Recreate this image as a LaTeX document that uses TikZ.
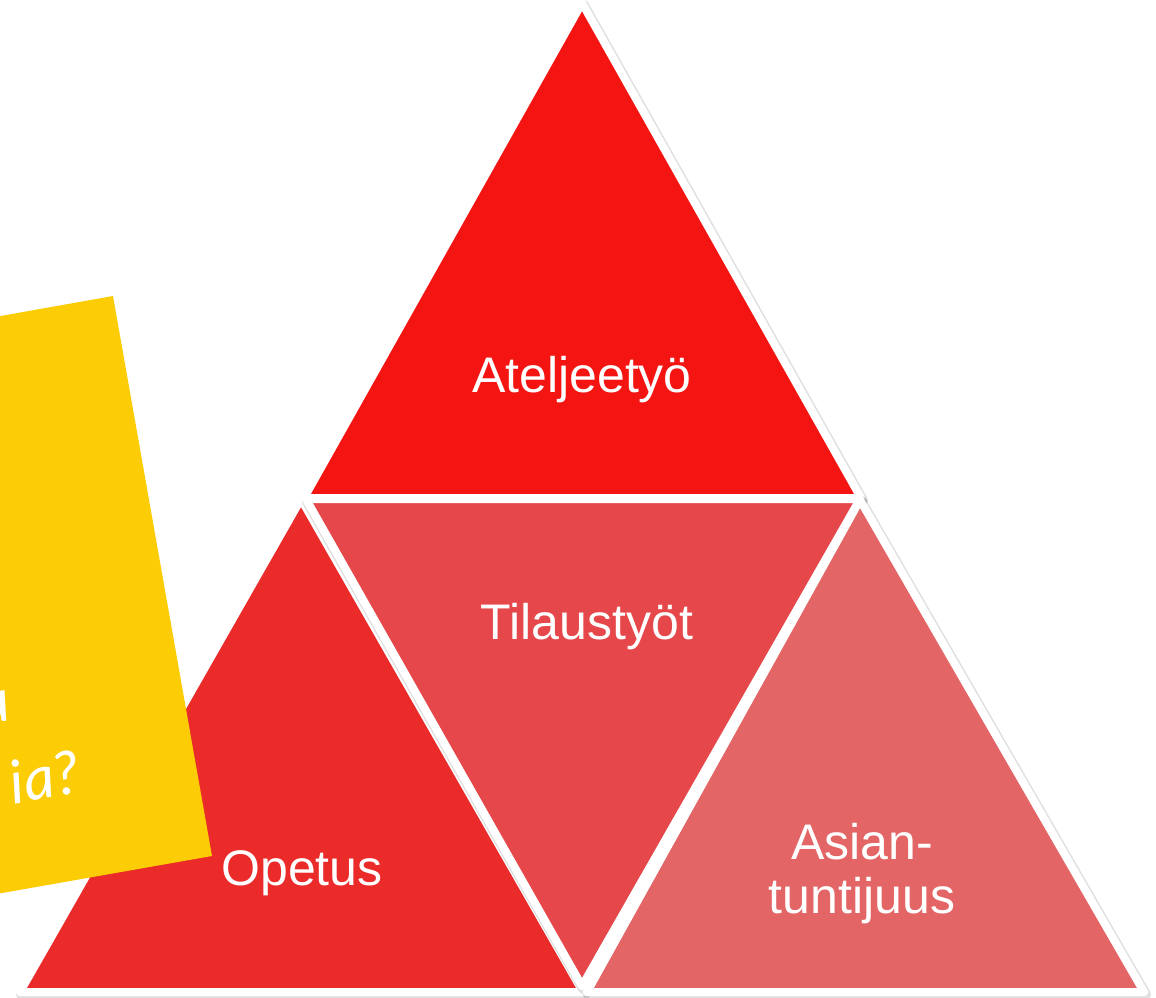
\documentclass[tikz,border=0pt]{standalone}
\usepackage{fontspec}
\setmainfont{Liberation Sans}
\newfontfamily\handfont{Lato}
\definecolor{topred}{HTML}{F41412}
\definecolor{midred}{HTML}{E6474A}
\definecolor{leftred}{HTML}{EB2A2A}
\definecolor{rightred}{HTML}{E36566}
\definecolor{notey}{HTML}{FCCC05}
\begin{document}
\begin{tikzpicture}[x=1pt,y=-1pt,
  tri/.style={draw=white, line width=8pt, line join=round},
  trishadow/.style={draw=black, draw opacity=0.12, line width=11pt, line join=round, shift={(1.5,2.5)}},
  lbl/.style={text=white, font=\fontsize{50}{54}\selectfont, align=center, inner sep=0pt},
  hand/.style={text=white, font=\handfont\itshape\fontsize{60}{66}\selectfont, inner sep=0pt, rotate=10}]
\useasboundingbox (0,0) rectangle (1156,998);
\clip (0,0) rectangle (1156,998);
% top triangle
\draw[trishadow] (582,3) -- (861,498) -- (304,498) -- cycle;
\filldraw[tri, fill=topred] (582,3) -- (861,498) -- (304,498) -- cycle;
% left triangle
\draw[trishadow] (301,499) -- (583,992) -- (20,992) -- cycle;
\filldraw[tri, fill=leftred] (301,499) -- (583,992) -- (20,992) -- cycle;
% middle inverted triangle
\draw[trishadow] (306,499) -- (860,499) -- (582,986) -- cycle;
\filldraw[tri, fill=midred] (306,499) -- (860,499) -- (582,986) -- cycle;
% right triangle
\draw[trishadow] (860,500) -- (1144,992) -- (587,992) -- cycle;
\filldraw[tri, fill=rightred] (860,500) -- (1144,992) -- (587,992) -- cycle;
% yellow note
\fill[notey] (-50,325) -- (113,296) -- (212,856) -- (-49,902) -- cycle;
\node[hand, anchor=base east] (q1) at (13,720) {u};
\node[hand, anchor=base east] (q2) at (82,792) {ia?};
% labels
\node[lbl] (atel) at (582,380) {Ateljeetyö};
\node[lbl] (tilaus) at (587,627) {Tilaustyöt};
\node[lbl] (opetus) at (302,873) {Opetus};
\node[lbl] (asian) at (862,874) {Asian-\\tuntijuus};
\end{tikzpicture}
\end{document}
